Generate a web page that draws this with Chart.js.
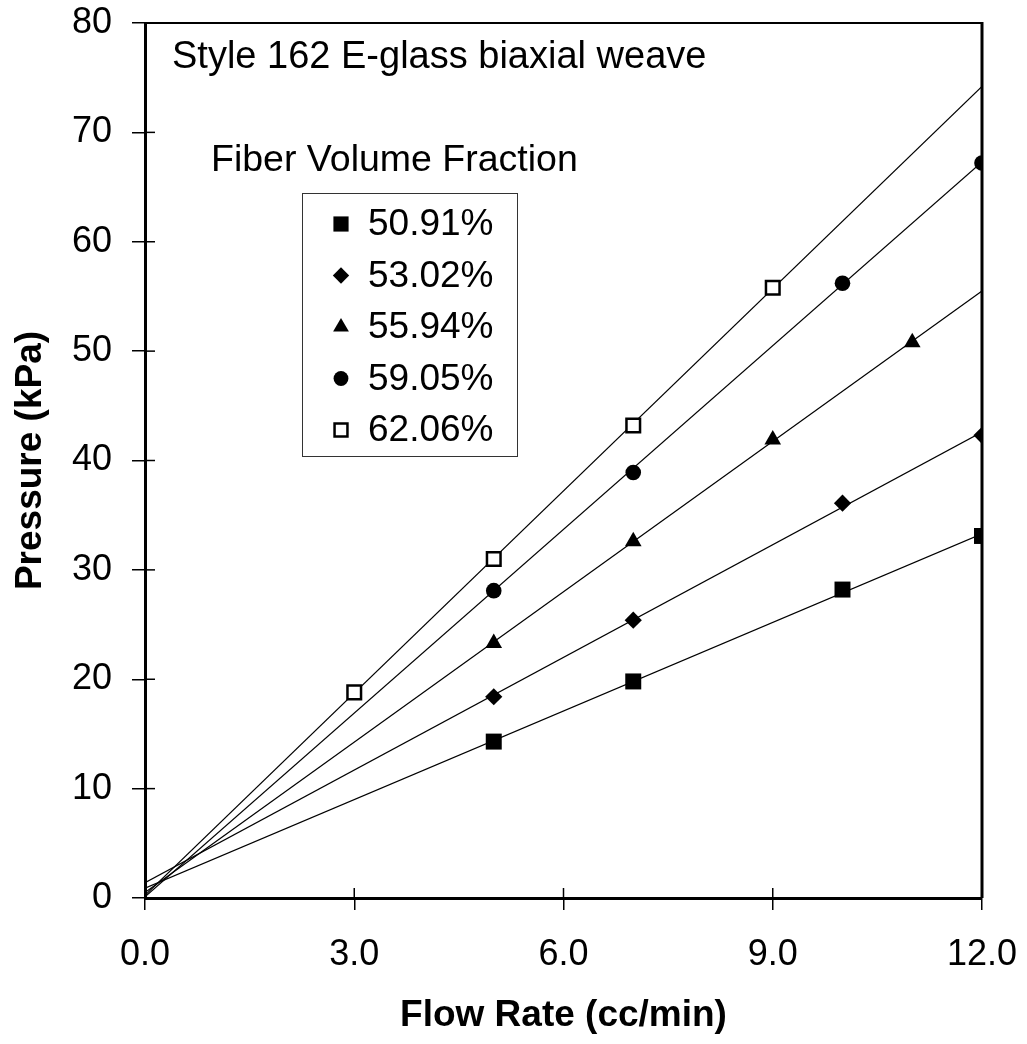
<!DOCTYPE html>
<html>
<head>
<meta charset="utf-8">
<script src="https://cdn.jsdelivr.net/npm/chart.js"></script>
<style>
  html, body { margin: 0; padding: 0; background: #fff; }
  #wrap { width: 1027px; height: 1044px; }
</style>
</head>
<body>
<div id="wrap"><canvas id="pressureChart" width="1027" height="1044"></canvas></div>
<script>
// data
var fractionLabels = ['50.91%', '53.02%', '55.94%', '59.05%', '62.06%'];

var flow5091 = [5, 7, 10, 12];
var press5091 = [14.3, 19.8, 28.2, 33.1];
var flow5302 = [5, 7, 10, 12];
var press5302 = [18.4, 25.4, 36.1, 42.3];
var flow5594 = [5, 7, 9, 11];
var press5594 = [23.3, 32.6, 41.9, 50.8];
var flow5905 = [5, 7, 10, 12];
var press5905 = [28.1, 38.9, 56.2, 67.2];
var flow6206 = [3, 5, 7, 9];
var press6206 = [18.8, 31.0, 43.2, 55.8];

// trend lines, ends read at flow 0 and 12
var trendFlow = [0, 12];
var trendStart = [0.9, 1.4, 0.5, 0.1, 0.25];
var trendEnd = [33.3, 42.6, 55.5, 67.3, 74.2];

var xTickLabels = ['0.0', '3.0', '6.0', '9.0', '12.0'];
var yTickLabels = ['0', '10', '20', '30', '40', '50', '60', '70', '80'];

var titleText = 'Style 162 E-glass biaxial weave';
var legendTitle = 'Fiber Volume Fraction';

var FONT = '"Liberation Sans", Arial, Helvetica, sans-serif';

var flows = [flow5091, flow5302, flow5594, flow5905, flow6206];
var pressures = [press5091, press5302, press5594, press5905, press6206];
var markers = [
  { style: 'rect', radius: 11.3, fill: '#000', border: 0 },
  { style: 'rectRot', radius: 8.6, fill: '#000', border: 0 },
  { style: 'triangle', radius: 9.6, fill: '#000', border: 0 },
  { style: 'circle', radius: 7.8, fill: '#000', border: 0 },
  { style: 'rect', radius: 9.6, fill: '#fff', border: 2.5 }
];

function toPoints(xs, ys) {
  return xs.map(function(x, i) { return { x: x, y: ys[i] }; });
}

var datasets = [];
fractionLabels.forEach(function(label, i) {
  datasets.push({
    type: 'scatter',
    label: label,
    data: toPoints(flows[i], pressures[i]),
    pointStyle: markers[i].style,
    pointRadius: markers[i].radius,
    pointHoverRadius: markers[i].radius,
    pointBackgroundColor: markers[i].fill,
    pointBorderColor: '#000',
    pointBorderWidth: markers[i].border,
    showLine: false,
    order: 0
  });
});
fractionLabels.forEach(function(label, i) {
  datasets.push({
    type: 'line',
    label: label + ' fit',
    data: toPoints(trendFlow, [trendStart[i], trendEnd[i]]),
    borderColor: '#000',
    borderWidth: 1.2,
    pointRadius: 0,
    fill: false,
    order: 1
  });
});

// frame, inside tick stubs, text and the legend box
var decorPlugin = {
  id: 'decor',
  afterDatasetsDraw: function(chart) {
    var ctx = chart.ctx;
    var a = chart.chartArea;
    var xs = chart.scales.x, ys = chart.scales.y;
    ctx.save();
    ctx.strokeStyle = '#000';
    ctx.lineWidth = 2;
    ctx.beginPath();
    ctx.moveTo(a.left, a.top);
    ctx.lineTo(a.right, a.top);
    ctx.stroke();
    ctx.lineWidth = 3;
    ctx.beginPath();
    ctx.moveTo(a.right, a.top - 1);
    ctx.lineTo(a.right, a.bottom);
    ctx.stroke();

    ctx.lineWidth = 1.5;
    ys.ticks.forEach(function(t) {
      var py = ys.getPixelForValue(t.value);
      ctx.beginPath();
      ctx.moveTo(a.left, py);
      ctx.lineTo(a.left + 10, py);
      ctx.stroke();
    });
    xs.ticks.forEach(function(t) {
      var px = xs.getPixelForValue(t.value);
      ctx.beginPath();
      ctx.moveTo(px, a.bottom);
      ctx.lineTo(px, a.bottom - 10);
      ctx.stroke();
    });

    ctx.fillStyle = '#000';
    ctx.textAlign = 'left';
    ctx.textBaseline = 'alphabetic';
    ctx.font = '38px ' + FONT;
    ctx.fillText(titleText, 172, 68);
    ctx.font = '37.5px ' + FONT;
    ctx.fillText(legendTitle, 211, 171);

    // legend box
    ctx.lineWidth = 1;
    ctx.strokeStyle = '#333';
    ctx.strokeRect(302.5, 193.5, 215, 263);
    ctx.textBaseline = 'middle';
    ctx.font = '37px ' + FONT;
    fractionLabels.forEach(function(label, i) {
      var cy = 224 + i * 51.5;
      var m = markers[i];
      ctx.fillStyle = m.fill;
      ctx.strokeStyle = '#000';
      ctx.lineWidth = m.border || 0;
      Chart.helpers.drawPoint(ctx, {
        pointStyle: m.style,
        radius: m.radius * 0.95,
        borderWidth: m.border,
        rotation: 0
      }, 341, cy);
      ctx.fillStyle = '#000';
      ctx.fillText(label, 368, cy + 1);
    });
    ctx.restore();
  }
};

var ctx = document.getElementById('pressureChart').getContext('2d');
var pressureChart = new Chart(ctx, {
  data: { datasets: datasets },
  plugins: [decorPlugin],
  options: {
    responsive: false,
    devicePixelRatio: 1,
    animation: false,
    layout: { padding: { left: 0, right: 45, top: 23, bottom: 0 } },
    plugins: {
      legend: { display: false },
      tooltip: { enabled: false }
    },
    scales: {
      x: {
        type: 'linear',
        min: 0,
        max: 12,
        afterFit: function(scale) {
          scale.height = 146;
          scale.paddingLeft = 0;
          scale.paddingRight = 0;
        },
        ticks: {
          stepSize: 3,
          color: '#000',
          padding: 23,
          font: { family: FONT, size: 36 },
          callback: function(value, index) { return xTickLabels[index]; }
        },
        grid: { drawOnChartArea: false, drawTicks: true, tickLength: 12, color: '#000', lineWidth: 1.5 },
        border: { display: true, color: '#000', width: 3 },
        title: {
          display: true,
          text: 'Flow Rate (cc/min)',
          color: '#000',
          font: { family: FONT, size: 37, weight: 'bold' },
          padding: { top: 0, bottom: 6 }
        }
      },
      y: {
        type: 'linear',
        min: 0,
        max: 80,
        afterFit: function(scale) {
          scale.width = 145;
          scale.paddingTop = 0;
          scale.paddingBottom = 0;
        },
        ticks: {
          stepSize: 10,
          color: '#000',
          padding: 20,
          font: { family: FONT, size: 36 },
          callback: function(value, index) { return yTickLabels[index]; }
        },
        grid: { drawOnChartArea: false, drawTicks: true, tickLength: 13, color: '#000', lineWidth: 1.5 },
        border: { display: true, color: '#000', width: 3 },
        title: {
          display: true,
          text: 'Pressure (kPa)',
          color: '#000',
          font: { family: FONT, size: 37, weight: 'bold' },
          padding: { top: 9, bottom: 0 }
        }
      }
    }
  }
});
</script>
</body>
</html>
